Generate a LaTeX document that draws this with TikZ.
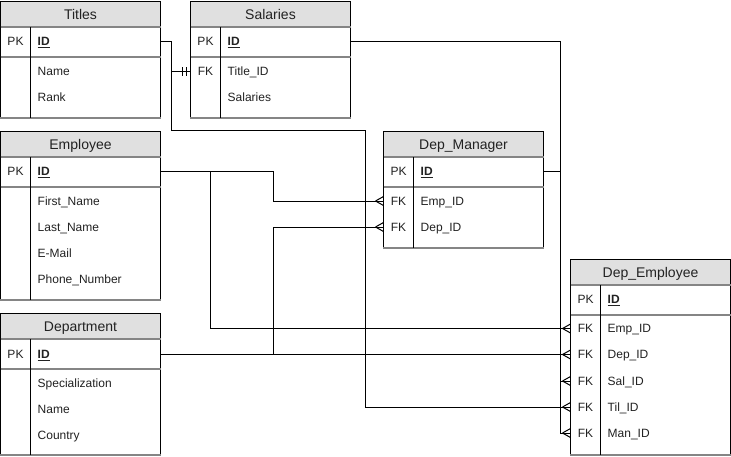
\documentclass[tikz,border=0pt]{standalone}
\usepackage{fontspec}
\setmainfont{Liberation Sans}
\definecolor{hdrgray}{HTML}{E0E0E0}
\definecolor{sepgray}{HTML}{858585}
\definecolor{txt}{HTML}{222222}
\tikzset{
  tabbox/.style={draw=black, line width=1pt, fill=white, minimum width=160pt, inner sep=0pt, outer sep=0pt},
  rowbox/.style={minimum width=160pt, minimum height=26pt, inner sep=0pt, outer sep=0pt},
  hdrtxt/.style={inner sep=0pt, text height=10pt, text depth=0pt, text=txt, font=\fontsize{14}{16}\selectfont},
  keytxt/.style={inner sep=0pt, text height=8.6pt, text depth=0pt, text=txt, font=\fontsize{12}{14}\selectfont},
  fldtxt/.style={inner sep=0pt, text height=8.6pt, text depth=0pt, anchor=west, text=txt, font=\fontsize{12}{14}\selectfont},
  sepline/.style={draw=sepgray, line width=1.6pt},
  coldiv/.style={draw=black, line width=1pt},
  conn/.style={draw=black, line width=1pt},
}
\newcommand\ertable[5]{%
  \node[tabbox, minimum height={#4-#3}, anchor=north west] (#1) at (#2,#3) {};
  \fill[hdrgray] (#2+0.5,#3+0.5) rectangle (#2+159.5,#3+26);
  \node[hdrtxt] (#1-t) at (#2+80,#3+13.5) {#5};
  \draw[sepline] (#2,#3+26) -- (#2+160,#3+26);
  \draw[sepline] (#2,#3+56) -- (#2+160,#3+56);
  \draw[sepline] (#2-0.5,#4) -- (#2+160.5,#4);
  \draw[coldiv] (#2+30,#3+26) -- (#2+30,#4);
}
\newcommand\erkey[5]{%
  \node[rowbox, anchor=west] (#1) at (#2,#3) {};
  \node[keytxt] (#1-k) at (#2+15,#3) {#4};
  \node[fldtxt] (#1-f) at (#2+37,#3) {#5};
}
\newcommand\erfld[4]{%
  \node[rowbox, anchor=west] (#1) at (#2,#3) {};
  \node[fldtxt] (#1-f) at (#2+37,#3) {#4};
}
\newcommand\crow[1]{\draw[conn] ([xshift=-8pt]#1.west) -- ([yshift=4.5pt]#1.west) ([xshift=-8pt]#1.west) -- ([yshift=-4.5pt]#1.west);}
\newcommand\mandone[1]{\draw[conn] ([xshift=-8pt,yshift=-4.5pt]#1.west) -- ([xshift=-8pt,yshift=4.5pt]#1.west) ([xshift=-4pt,yshift=-4.5pt]#1.west) -- ([xshift=-4pt,yshift=4.5pt]#1.west);}
\newcommand\pkid{\textbf{\underline{ID}}}
\begin{document}
\begin{tikzpicture}[x=1pt, y=-1pt]
\useasboundingbox (0,0) rectangle (731,456);
% tables
\ertable{ti}{0.5}{1}{118}{Titles}
\erkey{ti-id}{0.5}{41.5}{PK}{\pkid}
\erfld{ti-name}{0.5}{71}{Name}
\erfld{ti-rank}{0.5}{97}{Rank}

\ertable{sa}{190.5}{1}{118}{Salaries}
\erkey{sa-id}{190.5}{41.5}{PK}{\pkid}
\erkey{sa-tid}{190.5}{71}{FK}{Title\_ID}
\erfld{sa-sal}{190.5}{97}{Salaries}

\ertable{em}{0.5}{131}{300}{Employee}
\erkey{em-id}{0.5}{171.5}{PK}{\pkid}
\erfld{em-fn}{0.5}{201}{First\_Name}
\erfld{em-ln}{0.5}{227}{Last\_Name}
\erfld{em-mail}{0.5}{253}{E-Mail}
\erfld{em-ph}{0.5}{279}{Phone\_Number}

\ertable{dp}{0.5}{313}{455}{Department}
\erkey{dp-id}{0.5}{354.5}{PK}{\pkid}
\erfld{dp-spec}{0.5}{383}{Specialization}
\erfld{dp-name}{0.5}{409}{Name}
\erfld{dp-cty}{0.5}{435}{Country}

\ertable{dm}{383.5}{131}{248}{Dep\_Manager}
\erkey{dm-id}{383.5}{171.5}{PK}{\pkid}
\erkey{dm-emp}{383.5}{201}{FK}{Emp\_ID}
\erkey{dm-dep}{383.5}{227}{FK}{Dep\_ID}

\ertable{de}{570.5}{259}{455}{Dep\_Employee}
\erkey{de-id}{570.5}{299.5}{PK}{\pkid}
\erkey{de-emp}{570.5}{328.5}{FK}{Emp\_ID}
\erkey{de-dep}{570.5}{354.5}{FK}{Dep\_ID}
\erkey{de-sal}{570.5}{381}{FK}{Sal\_ID}
\erkey{de-til}{570.5}{407}{FK}{Til\_ID}
\erkey{de-man}{570.5}{433}{FK}{Man\_ID}

% connectors
\draw[conn] (ti-id.east) -- ++(11,0) |- (365.5,130.5) |- (de-til.west);
\draw[conn] (ti-id.east) -- ++(11,0) |- (sa-tid.west);
\mandone{sa-tid}
\crow{de-til}
\draw[conn] (sa-id.east) -| ([xshift=-10pt]de-sal.west) -- (de-sal.west);
\crow{de-sal}
\draw[conn] (dm-id.east) -| ([xshift=-10pt]de-man.west) -- (de-man.west);
\crow{de-man}
\draw[conn] (em-id.east) -| ([xshift=-110pt]dm-emp.west) -- (dm-emp.west);
\crow{dm-emp}
\draw[conn] (em-id.east) -| ([xshift=-360pt]de-emp.west) -- (de-emp.west);
\crow{de-emp}
\draw[conn] (dp-id.east) -- (de-dep.west);
\crow{de-dep}
\draw[conn] (dp-id.east) -| ([xshift=-110pt]dm-dep.west) -- (dm-dep.west);
\crow{dm-dep}
\end{tikzpicture}
\end{document}
